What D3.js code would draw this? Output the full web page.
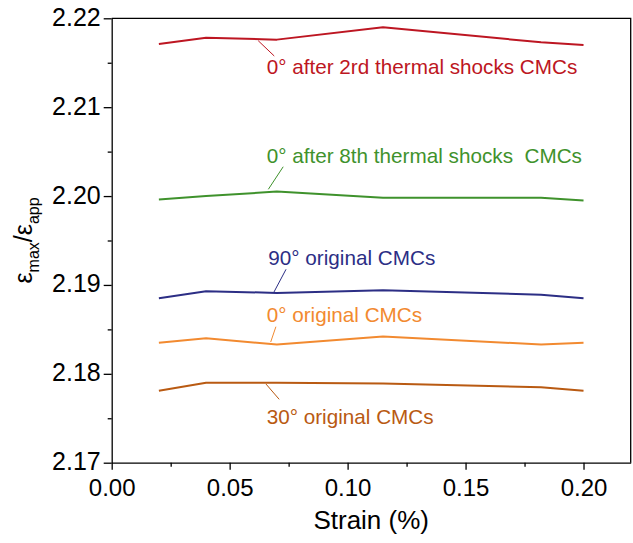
<!DOCTYPE html>
<html>
<head>
<meta charset="utf-8">
<script src="https://cdn.jsdelivr.net/npm/d3@7"></script>
<style>
  body { margin: 0; background: #fff; }
  svg { display: block; font-family: "Liberation Sans", Arial, sans-serif; }
</style>
</head>
<body>
<div id="chart"></div>
<script>
// strain (%) at which each ratio was measured
var strain = [0.02, 0.04, 0.07, 0.115, 0.182, 0.2];

var red2rd = [2.2171, 2.2178, 2.2176, 2.2190, 2.2173, 2.2170],
    green8th = [2.1996, 2.2000, 2.2005, 2.1998, 2.1998, 2.1995],
    blue90 = [2.1885, 2.1893, 2.1891, 2.1894, 2.1889, 2.1885],
    orange0 = [2.1835, 2.1840, 2.1833, 2.1842, 2.1833, 2.1835],
    brown30 = [2.1781, 2.1790, 2.1790, 2.1789, 2.1785, 2.1781];

var seriesNames = [
    "0° after 2rd thermal shocks CMCs",
    "0° after 8th thermal shocks  CMCs",
    "90° original CMCs",
    "0° original CMCs",
    "30° original CMCs"
];

var xTicks = [0, 0.05, 0.10, 0.15, 0.20],
    yTicks = [2.17, 2.18, 2.19, 2.20, 2.21, 2.22];

var width = 633, height = 543;
var margin = {left: 111.7, right: 2.3, top: 18.3, bottom: 80.3};

var series = [
    {name: seriesNames[0], values: red2rd, color: "#bd1622",
     label: [0.0657, 2.2137], leader: [[0.0621, 2.21748], [0.0689, 2.21576]]},
    {name: seriesNames[1], values: green8th, color: "#3f922c",
     label: [0.0657, 2.20375], leader: [[0.0664, 2.20076], [0.0727, 2.2033]]},
    {name: seriesNames[2], values: blue90, color: "#2c2e85",
     label: [0.0664, 2.19224], leader: [[0.0688, 2.18921], [0.0739, 2.19176]]},
    {name: seriesNames[3], values: orange0, color: "#f28a30",
     label: [0.0657, 2.18586], leader: [[0.0674, 2.18358], [0.0696, 2.1853]]},
    {name: seriesNames[4], values: brown30, color: "#b95a12",
     label: [0.0657, 2.17432], leader: [[0.0654, 2.17885], [0.0710, 2.17713]]}
];

var svg = d3.select("#chart").append("svg")
    .attr("width", width)
    .attr("height", height);

var xScale = d3.scaleLinear()
    .domain([0, 0.22])
    .range([margin.left, width - margin.right]);

var yScale = d3.scaleLinear()
    .domain([2.17, 2.22])
    .range([height - margin.bottom, margin.top]);

// minor ticks first, without labels
svg.append("g")
    .attr("transform", "translate(0," + yScale(2.17) + ")")
    .call(d3.axisBottom(xScale).tickValues([0.025, 0.075, 0.125, 0.175]).tickSize(4).tickFormat(""))
    .call(function(g) { g.select(".domain").remove(); });

svg.append("g")
    .attr("transform", "translate(" + xScale(0) + ",0)")
    .call(d3.axisLeft(yScale).tickValues([2.175, 2.185, 2.195, 2.205, 2.215]).tickSize(4).tickFormat(""))
    .call(function(g) { g.select(".domain").remove(); });

// major ticks
var xAxis = svg.append("g")
    .attr("transform", "translate(0," + yScale(2.17) + ")")
    .call(d3.axisBottom(xScale).tickValues(xTicks).tickSize(7).tickSizeOuter(0).tickPadding(9).tickFormat(d3.format(".2f")));
xAxis.selectAll("text").attr("font-size", 24).attr("fill", "#000");

var yAxis = svg.append("g")
    .attr("transform", "translate(" + xScale(0) + ",0)")
    .call(d3.axisLeft(yScale).tickValues(yTicks).tickSize(8).tickSizeOuter(0).tickPadding(3).tickFormat(d3.format(".2f")));
yAxis.selectAll("text").attr("font-size", 25).attr("fill", "#000").attr("dy", "0.28em");

svg.selectAll(".tick line").attr("stroke", "#000").attr("stroke-width", 1.3);
svg.selectAll(".domain").attr("stroke", "#000").attr("stroke-width", 1.3);

// top and right frame
svg.append("path")
    .attr("d", "M" + xScale(0) + "," + yScale(2.22) + "H" + xScale(0.22) + "V" + yScale(2.17))
    .attr("fill", "none")
    .attr("stroke", "#000")
    .attr("stroke-width", 1.3);

var line = d3.line()
    .x(function(d, i) { return xScale(strain[i]); })
    .y(function(d) { return yScale(d); });

series.forEach(function(s) {
    svg.append("path")
        .datum(s.values)
        .attr("d", line)
        .attr("fill", "none")
        .attr("stroke", s.color)
        .attr("stroke-width", 2)
        .attr("stroke-linejoin", "round");

    svg.append("line")
        .attr("x1", xScale(s.leader[0][0]))
        .attr("y1", yScale(s.leader[0][1]))
        .attr("x2", xScale(s.leader[1][0]))
        .attr("y2", yScale(s.leader[1][1]))
        .attr("stroke", s.color)
        .attr("stroke-width", 1);

    svg.append("text")
        .attr("x", xScale(s.label[0]))
        .attr("y", yScale(s.label[1]))
        .attr("font-size", 20.7)
        .attr("fill", s.color)
        .style("white-space", "pre")
        .text(s.name);
});

// axis titles
svg.append("text")
    .attr("x", (xScale(0) + xScale(0.22)) / 2)
    .attr("y", 529)
    .attr("text-anchor", "middle")
    .attr("font-size", 26)
    .text("Strain (%)");

var yTitle = svg.append("text")
    .attr("transform", "translate(32," + yScale(2.195) + ") rotate(-90)")
    .attr("text-anchor", "middle")
    .attr("font-size", 25);
yTitle.append("tspan").text("ε");
yTitle.append("tspan").attr("font-size", 16).attr("dy", 7).text("max");
yTitle.append("tspan").attr("dy", -7).text("/ε");
yTitle.append("tspan").attr("font-size", 16).attr("dy", 7).text("app");
</script>
</body>
</html>
